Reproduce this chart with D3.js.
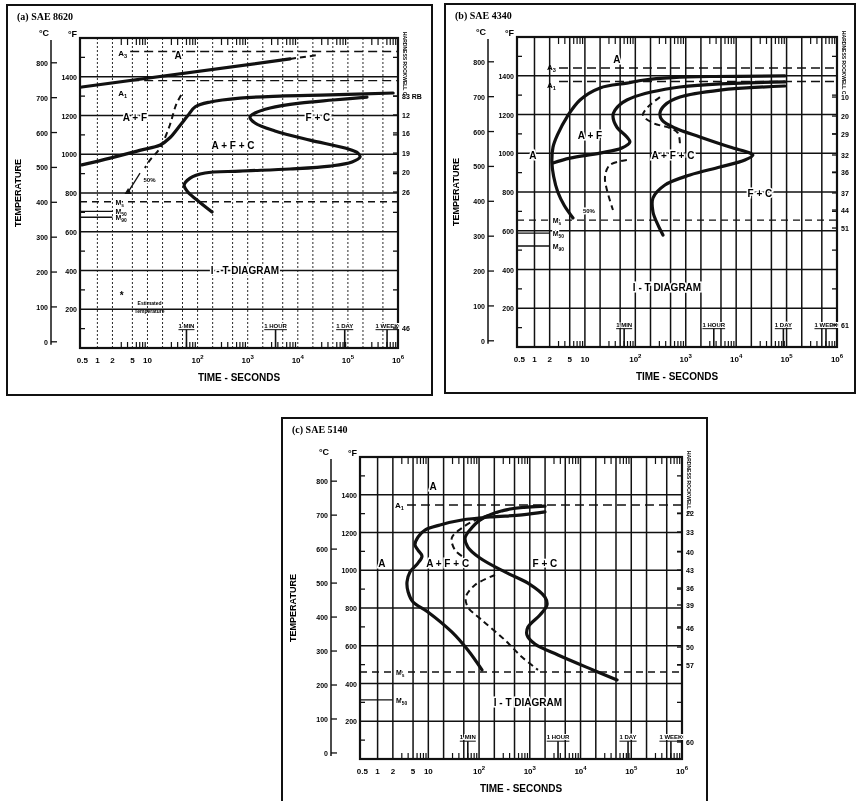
<!DOCTYPE html>
<html>
<head>
<meta charset="utf-8">
<title>I-T diagrams</title>
<style>
  body { margin: 0; background: #fff; }
  svg { will-change: transform; transform: translateZ(0); }
  text { font-family: "Liberation Sans", Arial, sans-serif; font-weight: bold; fill: #000; }
</style>
</head>
<body>
<script src="https://d3js.org/d3.v7.min.js"></script>
<script>
// shared axis values
var timeTicks = [0.5, 1, 2, 5, 10, 1e2, 1e3, 1e4, 1e5, 1e6];
var timeTickLabels = ["0.5", "1", "2", "5", "10", "10^2", "10^3", "10^4", "10^5", "10^6"];
var gridTimes = [1, 2, 5, 10, 20, 50, 100, 200, 500, 1e3, 2e3, 5e3, 1e4, 2e4, 5e4, 1e5, 2e5, 5e5];
var markTimes = [60, 3600, 86400, 604800];
var markLabels = ["1 MIN", "1 HOUR", "1 DAY", "1 WEEK"];
var degF = [200, 400, 600, 800, 1000, 1200, 1400];
var degC = [0, 100, 200, 300, 400, 500, 600, 700, 800];

// (a) SAE 8620  -- [seconds, deg F]
var a_start = [[0.49,945],[1.8,980],[7,1020],[18,1048],[28,1085],[45,1150],[64,1200],[90,1245],[180,1270],[700,1290],[4400,1300],[44000,1306],[800000,1316]];
var a_upper = [[0.49,1347],[7000,1492]];
var a_upperDash = [[7000,1492],[25000,1512]];
var a_finish = [[240000,1295],[50500,1280],[11000,1264],[2800,1239],[1400,1213],[1110,1192],[1400,1161],[3500,1120],[17500,1073],[87500,1032],[159000,1006],[175000,986],[121000,960],[44000,939],[7000,924],[700,913],[141,903],[71,877],[54,841],[64,805],[97,764],[194,702]];
var a_fifty = [[47,1306],[37,1254],[28,1151],[17.8,1032],[11.2,970],[8.9,929]];
var a_arrow = [[7.1,903],[4.1,805]];
var a_critF = [1530, 1380];
var a_critNames = [["A","3"], ["A","1"]];
var a_critAt = [[2.6,1522],[2.6,1316]];
var a_msF = [755, 705, 675];
var a_msNames = [["M","s"], ["M","50"], ["M","90"]];
var a_hardF = [1300, 1203, 1110, 1006, 908, 805, 103];
var a_hardLabels = ["83 RB", "12", "16", "19", "20", "26", "46"];
var a_regionText = ["A", "A + F", "A + F + C", "F + C", "I - T  DIAGRAM", "50%"];
var a_regionAt = [[41,1512],[5.6,1192],[510,1048],[25300,1192],[883,403],[11,877]];

// (b) SAE 4340
var b_start = [[92700,1399],[3000,1396],[558,1390],[150,1378],[68,1362],[20,1337],[8,1275],[4.4,1187],[2.9,1099],[2.33,1032],[2.22,950],[2.4,880],[2.9,800],[3.9,730],[5.8,666]];
var b_mid = [[92700,1368],[558,1337],[68,1275],[39.5,1223],[36,1192],[43,1135],[68,1084],[78,1058],[54,1027],[19.9,1001],[5.06,975],[2.33,950]];
var b_finish = [[92700,1347],[4770,1326],[768,1290],[387,1249],[308,1208],[338,1172],[611,1130],[1914,1084],[7530,1032],[18800,1001],[21500,991],[14900,965],[4770,929],[1214,888],[387,836],[224,769],[224,697],[281,630],[353,578]];
var b_fiftyA = [[308,1290],[178,1239],[142,1197],[224,1156],[486,1130],[701,1104],[768,1043]];
var b_fiftyB = [[68,965],[31,939],[25,877],[27.4,810],[36,707]];
var b_critF = [1440, 1370];
var b_critNames = [["A","3"], ["A","1"]];
var b_critAt = [[1.77,1445],[1.77,1352]];
var b_msF = [655, 588, 521];
var b_msNames = [["M","s"], ["M","50"], ["M","90"]];
var b_hardF = [1290, 1192, 1099, 991, 903, 795, 707, 614, 114];
var b_hardLabels = ["10", "20", "29", "32", "36", "37", "44", "51", "61"];
var b_regionText = ["A", "A + F", "A", "A + F + C", "F + C", "I - T  DIAGRAM", "50%"];
var b_regionAt = [[43,1486],[12.6,1094],[0.93,991],[558,991],[29600,795],[425,310],[12,712]];

// (c) SAE 5140
var c_start = [[1990,1309],[701,1293],[164,1282],[46,1266],[17,1240],[8.6,1213],[6.25,1176],[5.46,1134],[6.25,1107],[7.5,1075],[6.25,1038],[4.35,991],[3.8,938],[4.0,885],[5.0,832],[9.8,779],[29,673],[60,577],[114,472]];
var c_finish = [[1990,1340],[324,1319],[104,1266],[66,1213],[53,1171],[60,1123],[104,1065],[324,991],[920,932],[1990,858],[2180,816],[1585,763],[920,699],[880,657],[1265,609],[3600,551],[17600,472],[52400,419]];
var c_fiftyA = [[372,1319],[104,1277],[46,1224],[29,1171],[33.5,1107],[46,1075]];
var c_fiftyB = [[206,975],[83,922],[55,858],[60,805],[114,736],[324,630],[701,540],[1450,472]];
var c_critF = [1346];
var c_critNames = [["A","1"]];
var c_critAt = [[2.2,1346]];
var c_msF = [461, 313];
var c_msNames = [["M","s"], ["M","50"]];
var c_hardF = [1303, 1203, 1097, 1001, 906, 816, 694, 593, 498, 90];
var c_hardLabels = ["22", "33", "40", "43", "36", "39", "46", "50", "57", "60"];
var c_regionText = ["A", "A", "A + F + C", "F + C", "I - T  DIAGRAM"];
var c_regionAt = [[12.4,1446],[1.22,1038],[24,1038],[1990,1038],[920,302]];

var svg = d3.select("body").append("svg")
    .attr("width", 859)
    .attr("height", 801)
    .style("background", "#fff");

var panels = [
    { title: "(a) SAE 8620", frame: [7, 5, 425, 390], plot: [80, 38, 398, 348], lightGrid: true,
      solid: [a_start, a_finish, a_upper], dashed: [a_upperDash, a_fifty], thin: [a_arrow],
      critF: a_critF, critNames: a_critNames, critAt: a_critAt, msF: a_msF, msNames: a_msNames,
      hardF: a_hardF, hardLabels: a_hardLabels, regionText: a_regionText, regionAt: a_regionAt, note: true },
    { title: "(b) SAE 4340", frame: [445, 4, 410, 389], plot: [517, 37, 837, 347], lightGrid: false,
      solid: [b_start, b_mid, b_finish], dashed: [b_fiftyA, b_fiftyB], thin: [],
      critF: b_critF, critNames: b_critNames, critAt: b_critAt, msF: b_msF, msNames: b_msNames,
      hardF: b_hardF, hardLabels: b_hardLabels, regionText: b_regionText, regionAt: b_regionAt, note: false },
    { title: "(c) SAE 5140", frame: [282, 418, 425, 390], plot: [360, 457, 682, 759], lightGrid: false,
      solid: [c_start, c_finish], dashed: [c_fiftyA, c_fiftyB], thin: [],
      critF: c_critF, critNames: c_critNames, critAt: c_critAt, msF: c_msF, msNames: c_msNames,
      hardF: c_hardF, hardLabels: c_hardLabels, regionText: c_regionText, regionAt: c_regionAt, note: false }
];

function subText(g, x, y, main, sub, size, anchor) {
    var t = g.append("text").attr("x", x).attr("y", y)
        .attr("text-anchor", anchor || "start")
        .style("font-size", size + "px");
    t.append("tspan").text(main);
    t.append("tspan").attr("dy", 2).style("font-size", (size * 0.7) + "px").text(sub);
    return t;
}

panels.forEach(function(p) {
    var l = p.plot[0], t = p.plot[1], r = p.plot[2], b = p.plot[3];
    var g = svg.append("g");

    var x = d3.scaleLog().domain([0.45, 1e6]).range([l, r]);
    var y = d3.scaleLinear().domain([0, 1600]).range([b, t]);
    var yC = function(c) { return y(c * 9 / 5 + 32); };

    // frame
    g.append("rect")
        .attr("x", p.frame[0]).attr("y", p.frame[1])
        .attr("width", p.frame[2]).attr("height", p.frame[3])
        .style("fill", "#fff").style("stroke", "#111").style("stroke-width", 2);

    g.append("text")
        .attr("x", p.frame[0] + 10).attr("y", p.frame[1] + 15)
        .text(p.title)
        .style("font-family", "Liberation Serif, serif")
        .style("font-size", "10px");

    // vertical grid
    g.selectAll(".vg").data(gridTimes).enter().append("line")
        .attr("x1", function(d) { return x(d); }).attr("x2", function(d) { return x(d); })
        .attr("y1", t).attr("y2", b)
        .style("stroke", "#111")
        .style("stroke-width", function(d) { return p.lightGrid ? 0.9 : 1.5; })
        .style("stroke-dasharray", p.lightGrid ? "2,2" : null);

    // horizontal grid
    g.selectAll(".hg").data(degF).enter().append("line")
        .attr("x1", l).attr("x2", r)
        .attr("y1", function(d) { return y(d); }).attr("y2", function(d) { return y(d); })
        .style("stroke", "#111").style("stroke-width", p.lightGrid ? 1.3 : 1.7);

    // minor time ticks, top and bottom
    var minor = [];
    [1, 10, 100, 1e3, 1e4, 1e5].forEach(function(dec) {
        [3, 4, 6, 7, 8, 9].forEach(function(m) { minor.push(dec * m); });
    });
    g.selectAll(".mt").data(minor).enter().append("line")
        .attr("x1", function(d) { return x(d); }).attr("x2", function(d) { return x(d); })
        .attr("y1", t).attr("y2", t + 7)
        .style("stroke", "#111").style("stroke-width", 1.2);
    g.selectAll(".mb").data(minor).enter().append("line")
        .attr("x1", function(d) { return x(d); }).attr("x2", function(d) { return x(d); })
        .attr("y1", b).attr("y2", b - 6)
        .style("stroke", "#111").style("stroke-width", 1.2);

    // minor temperature ticks on both sides
    var oddF = [100, 300, 500, 700, 900, 1100, 1300, 1500];
    g.selectAll(".ml").data(oddF).enter().append("line")
        .attr("x1", l).attr("x2", l + 5)
        .attr("y1", function(d) { return y(d); }).attr("y2", function(d) { return y(d); })
        .style("stroke", "#111").style("stroke-width", 1.3);
    g.selectAll(".mr").data(oddF).enter().append("line")
        .attr("x1", r).attr("x2", r - 5)
        .attr("y1", function(d) { return y(d); }).attr("y2", function(d) { return y(d); })
        .style("stroke", "#111").style("stroke-width", 1.3);

    // plot border
    g.append("rect")
        .attr("x", l).attr("y", t).attr("width", r - l).attr("height", b - t)
        .style("fill", "none").style("stroke", "#111").style("stroke-width", 2.2);

    // critical temperatures (A lines)
    p.critF.forEach(function(f, i) {
        g.append("line")
            .attr("x1", x(p.critAt[i][0]) + 12).attr("x2", r)
            .attr("y1", y(f)).attr("y2", y(f))
            .style("stroke", "#111").style("stroke-width", 1.4).style("stroke-dasharray", "9,5");
        subText(g, x(p.critAt[i][0]), y(p.critAt[i][1]) + 3, p.critNames[i][0], p.critNames[i][1], 8);
    });

    // martensite lines
    p.msF.forEach(function(f, i) {
        g.append("line")
            .attr("x1", l).attr("x2", i === 0 ? r : x(2))
            .attr("y1", y(f)).attr("y2", y(f))
            .style("stroke", "#111").style("stroke-width", 1.4)
            .style("stroke-dasharray", i === 0 ? "7,5" : null);
        subText(g, x(2.3), y(f) + 3, p.msNames[i][0], p.msNames[i][1], 7)
            .style("paint-order", "stroke").style("stroke", "#fff").style("stroke-width", 2);
    });

    var line = d3.line()
        .x(function(d) { return x(d[0]); })
        .y(function(d) { return y(d[1]); })
        .curve(d3.curveCatmullRom.alpha(0.5));

    p.solid.forEach(function(s) {
        g.append("path").datum(s).attr("d", line)
            .style("fill", "none").style("stroke", "#111")
            .style("stroke-width", 3.2).style("stroke-linecap", "round");
    });
    p.dashed.forEach(function(s) {
        g.append("path").datum(s).attr("d", line)
            .style("fill", "none").style("stroke", "#111")
            .style("stroke-width", 2).style("stroke-dasharray", "6,4");
    });
    p.thin.forEach(function(s) {
        g.append("path").datum(s).attr("d", line)
            .style("fill", "none").style("stroke", "#111").style("stroke-width", 1.3);
        var e = s[s.length - 1];
        g.append("path")
            .attr("d", d3.symbol().type(d3.symbolTriangle).size(22))
            .attr("transform", "translate(" + x(e[0]) + "," + y(e[1]) + ")")
            .style("fill", "#111");
    });

    // region labels
    p.regionText.forEach(function(txt, i) {
        var small = txt === "50%";
        g.append("text")
            .attr("x", x(p.regionAt[i][0])).attr("y", y(p.regionAt[i][1]) + 4)
            .attr("text-anchor", "middle")
            .text(txt)
            .style("font-size", small ? "6px" : "10px")
            .style("paint-order", "stroke").style("stroke", "#fff").style("stroke-width", 3);
    });

    // time marks (1 MIN ... 1 WEEK)
    markTimes.forEach(function(m, i) {
        var lx = x(m);
        var tx = g.append("text")
            .attr("x", lx).attr("y", y(105))
            .attr("text-anchor", "middle")
            .text(markLabels[i])
            .style("font-size", "6px")
            .style("paint-order", "stroke").style("stroke", "#fff").style("stroke-width", 2);
        var w = tx.node().getComputedTextLength();
        g.append("line")
            .attr("x1", lx - w / 2).attr("x2", lx + w / 2)
            .attr("y1", y(105) + 2).attr("y2", y(105) + 2)
            .style("stroke", "#111").style("stroke-width", 1);
        g.append("line")
            .attr("x1", lx).attr("x2", lx)
            .attr("y1", y(105) + 2).attr("y2", b)
            .style("stroke", "#111").style("stroke-width", 1.6);
    });

    // bottom axis labels
    timeTicks.forEach(function(v, i) {
        var parts = timeTickLabels[i].split("^");
        var tx = g.append("text")
            .attr("x", x(v)).attr("y", b + 15)
            .attr("text-anchor", "middle")
            .style("font-size", "8px");
        tx.append("tspan").text(parts[0]);
        if (parts[1]) tx.append("tspan").attr("dy", -4).style("font-size", "6px").text(parts[1]);
    });
    g.append("text")
        .attr("x", (l + r) / 2).attr("y", b + 33)
        .attr("text-anchor", "middle")
        .text("TIME  -  SECONDS")
        .style("font-size", "10px");

    // deg F labels
    g.selectAll(".fl").data(degF).enter().append("text")
        .attr("x", l - 3).attr("y", function(d) { return y(d) + 3; })
        .attr("text-anchor", "end")
        .text(function(d) { return d; })
        .style("font-size", "7px");
    g.append("text").attr("x", l - 12).attr("y", t - 1).text("°F").style("font-size", "9px");

    // deg C axis
    var cx = l - 29;
    g.append("line")
        .attr("x1", cx).attr("x2", cx).attr("y1", t + 2).attr("y2", yC(0) + 3)
        .style("stroke", "#111").style("stroke-width", 1.5);
    g.selectAll(".ct").data(degC).enter().append("line")
        .attr("x1", cx).attr("x2", cx + 6)
        .attr("y1", function(d) { return yC(d); }).attr("y2", function(d) { return yC(d); })
        .style("stroke", "#111").style("stroke-width", 1.3);
    g.selectAll(".cl").data(degC).enter().append("text")
        .attr("x", cx - 3).attr("y", function(d) { return yC(d) + 3; })
        .attr("text-anchor", "end")
        .text(function(d) { return d; })
        .style("font-size", "7px");
    g.append("text").attr("x", cx - 12).attr("y", t - 2).text("°C").style("font-size", "9px");

    g.append("text")
        .attr("transform", "translate(" + (p.frame[0] + 14) + "," + ((t + b) / 2) + ") rotate(-90)")
        .attr("text-anchor", "middle")
        .text("TEMPERATURE")
        .style("font-size", "9px");

    // hardness axis on the right
    g.selectAll(".hl").data(p.hardF).enter().append("text")
        .attr("x", r + 4).attr("y", function(d) { return y(d) + 3; })
        .text(function(d, i) { return p.hardLabels[i]; })
        .style("font-size", "7px");
    g.selectAll(".ht").data(p.hardF).enter().append("line")
        .attr("x1", r).attr("x2", r - 5)
        .attr("y1", function(d) { return y(d); }).attr("y2", function(d) { return y(d); })
        .style("stroke", "#111").style("stroke-width", 1.3);
    g.append("text")
        .attr("transform", "translate(" + (r + 5) + "," + (t - 6) + ") rotate(90)")
        .text("HARDNESS ROCKWELL C")
        .style("font-size", "5px");

    if (p.note) {
        g.append("text").attr("x", x(2.8)).attr("y", y(255)).text("*").style("font-size", "10px");
        g.append("text").attr("x", x(11)).attr("y", y(222)).attr("text-anchor", "middle")
            .text("Estimated").style("font-size", "5px");
        g.append("text").attr("x", x(11)).attr("y", y(181)).attr("text-anchor", "middle")
            .text("Temperature").style("font-size", "5px");
    }
});
</script>
</body>
</html>
